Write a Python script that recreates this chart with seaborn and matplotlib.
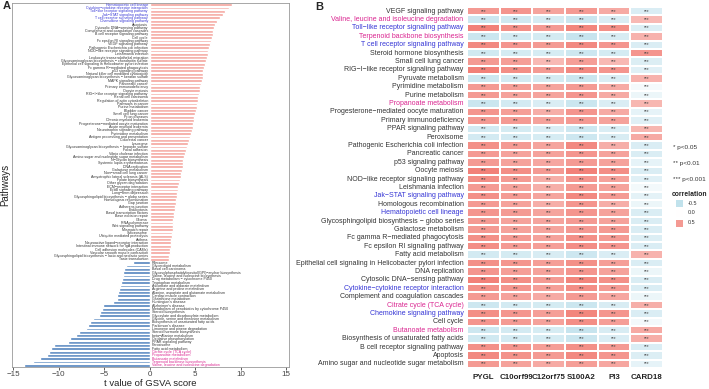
import numpy as np
import pandas as pd
import matplotlib
matplotlib.use('Agg')
import matplotlib.pyplot as plt
import seaborn as sns
from matplotlib.colors import LinearSegmentedColormap
from matplotlib.patches import Rectangle

# ---- panel A: GSVA t values ----
up_paths = [
    'Hematopoietic cell lineage', 'Cytokine−cytokine receptor interaction',
    'Toll−like receptor signaling pathway', 'Jak−STAT signaling pathway',
    'T cell receptor signaling pathway', 'Chemokine signaling pathway',
    'Apoptosis', 'Cytosolic DNA−sensing pathway', 'Complement and coagulation cascades',
    'B cell receptor signaling pathway', 'Cell cycle', 'Fc epsilon RI signaling pathway',
    'VEGF signaling pathway', 'Pathogenic Escherichia coli infection',
    'NOD−like receptor signaling pathway', 'Leishmania infection',
    'Leukocyte transendothelial migration',
    'Glycosaminoglycan biosynthesis − chondroitin sulfate',
    'Epithelial cell signaling in Helicobacter pylori infection',
    'Fc gamma R−mediated phagocytosis', 'p53 signaling pathway',
    'Natural killer cell mediated cytotoxicity',
    'Glycosaminoglycan biosynthesis − keratan sulfate', 'MAPK signaling pathway',
    'Pancreatic cancer', 'Primary immunodeficiency', 'Oocyte meiosis',
    'RIG−I−like receptor signaling pathway', 'Renal cell carcinoma',
    'Regulation of actin cytoskeleton', 'Pathways in cancer', 'Purine metabolism',
    'Bladder cancer', 'Small cell lung cancer', 'Prion diseases',
    'Chronic myeloid leukemia', 'Progesterone−mediated oocyte maturation',
    'Acute myeloid leukemia', 'Neurotrophin signaling pathway', 'Pyrimidine metabolism',
    'Antigen processing and presentation', 'Colorectal cancer', 'Lysosome',
    'Glycosaminoglycan biosynthesis − heparan sulfate', 'Focal adhesion',
    'Vibrio cholerae infection', 'Amino sugar and nucleotide sugar metabolism',
    'N−Glycan biosynthesis', 'Systemic lupus erythematosus', 'DNA replication',
    'Galactose metabolism', 'Non−small cell lung cancer',
    'Amyotrophic lateral sclerosis (ALS)', 'Folate biosynthesis',
    'Other glycan degradation', 'ECM−receptor interaction', 'ErbB signaling pathway',
    'Long−term depression', 'Glycosphingolipid biosynthesis − globo series',
    'Homologous recombination', 'Gap junction', 'Adherens junction', 'Endocytosis',
    'Basal transcription factors', 'Base excision repair', 'Glioma', 'RNA polymerase',
    'Wnt signaling pathway', 'Mismatch repair', 'Spliceosome',
    'Ubiquitin mediated proteolysis', 'Asthma', 'Neuroactive ligand−receptor interaction',
    'Intestinal immune network for IgA production', 'Cell adhesion molecules (CAMs)',
    'Vascular smooth muscle contraction',
    'Glycosphingolipid biosynthesis − lacto and neolacto series', 'Taste transduction',
]
up_t = [
    9.0, 8.7, 8.3, 8.0, 7.7, 7.4, 7.2, 7.1, 7.0, 6.9,
    6.8, 6.7, 6.6, 6.5, 6.4, 6.4, 6.3, 6.2, 6.1, 6.0,
    5.9, 5.9, 5.8, 5.7, 5.6, 5.5, 5.5, 5.4, 5.3, 5.3,
    5.2, 5.2, 5.1, 5.0, 4.9, 4.9, 4.8, 4.7, 4.6, 4.5,
    4.4, 4.3, 4.2, 4.1, 4.0, 3.9, 3.8, 3.7, 3.6, 3.6,
    3.5, 3.4, 3.4, 3.3, 3.2, 3.1, 3.1, 3.0, 3.0, 2.9,
    2.9, 2.8, 2.8, 2.7, 2.7, 2.6, 2.6, 2.5, 2.5, 2.4,
    2.4, 2.3, 2.3, 2.3, 2.2, 2.2, 2.1, 2.1,
]
down_paths = [
    'Ribosome', 'Glycerolipid metabolism', 'Basal cell carcinoma',
    'Glycosylphosphatidylinositol(GPI)−anchor biosynthesis',
    'Valine, leucine and isoleucine biosynthesis', 'Drug metabolism − cytochrome P450',
    'Tryptophan metabolism', 'Ascorbate and aldarate metabolism',
    'Arginine and proline metabolism', 'Alanine, aspartate and glutamate metabolism',
    'Cardiac muscle contraction', 'Glutathione metabolism', "Huntington's disease",
    "Alzheimer's disease", 'Metabolism of xenobiotics by cytochrome P450',
    'Steroid biosynthesis', 'Glyoxylate and dicarboxylate metabolism',
    'Glycine, serine and threonine metabolism', 'Biosynthesis of unsaturated fatty acids',
    "Parkinson's disease", 'Limonene and pinene degradation',
    'Steroid hormone biosynthesis', 'beta−Alanine metabolism', 'Oxidative phosphorylation',
    'PPAR signaling pathway', 'Peroxisome', 'Fatty acid metabolism',
    'Citrate cycle (TCA cycle)', 'Propanoate metabolism', 'Butanoate metabolism',
    'Terpenoid backbone biosynthesis', 'Valine, leucine and isoleucine degradation',
]
down_t = [
    -1.9, -2.6, -2.8, -2.9, -3.0, -3.1, -3.2, -3.3, -3.4, -3.5,
    -3.6, -3.6, -4.1, -5.2, -5.3, -5.5, -5.6, -6.3, -6.6, -6.8,
    -7.0, -7.8, -8.1, -8.8, -9.0, -10.5, -10.9, -11.1, -11.3, -12.1,
    -12.8, -13.8,
]

# ---- panel B: correlation heatmap ----
genes = ['PYGL', 'C10orf99', 'C12orf75', 'S100A2', 'PI3', 'CARD18']
heat_rows = [
    'VEGF signaling pathway', 'Valine, leucine and isoleucine degradation',
    'Toll−like receptor signaling pathway', 'Terpenoid backbone biosynthesis',
    'T cell receptor signaling pathway', 'Steroid hormone biosynthesis',
    'Small cell lung cancer', 'RIG−I−like receptor signaling pathway',
    'Pyruvate metabolism', 'Pyrimidine metabolism', 'Purine metabolism',
    'Propanoate metabolism', 'Progesterone−mediated oocyte maturation',
    'Primary immunodeficiency', 'PPAR signaling pathway', 'Peroxisome',
    'Pathogenic Escherichia coli infection', 'Pancreatic cancer', 'p53 signaling pathway',
    'Oocyte meiosis', 'NOD−like receptor signaling pathway', 'Leishmania infection',
    'Jak−STAT signaling pathway', 'Homologous recombination', 'Hematopoietic cell lineage',
    'Glycosphingolipid biosynthesis − globo series', 'Galactose metabolism',
    'Fc gamma R−mediated phagocytosis', 'Fc epsilon RI signaling pathway',
    'Fatty acid metabolism', 'Epithelial cell signaling in Helicobacter pylori infection',
    'DNA replication', 'Cytosolic DNA−sensing pathway',
    'Cytokine−cytokine receptor interaction', 'Complement and coagulation cascades',
    'Citrate cycle (TCA cycle)', 'Chemokine signaling pathway', 'Cell cycle',
    'Butanoate metabolism', 'Biosynthesis of unsaturated fatty acids',
    'B cell receptor signaling pathway', 'Apoptosis',
    'Amino sugar and nucleotide sugar metabolism',
]
r_pygl = [.50, -.40, .62, -.42, .58, -.38, .50, .62, -.40, .50, .50, -.42, .52, .50, -.36,
          -.36, .55, .50, .50, .62, .56, .50, .55, .50, .52, .50, .50, .55, .56, -.36,
          .55, .52, .62, .55, .50, -.40, .56, .52, -.40, -.38, .55, .58, .50]
r_c10 = [.52, -.38, .55, -.36, .52, -.35, .48, .56, -.36, .48, .46, -.36, .48, .50, -.35,
         -.36, .50, .46, .46, .56, .50, .46, .50, .46, .50, .46, .46, .50, .50, -.35,
         .52, .48, .56, .52, .46, -.36, .52, .50, -.36, -.36, .52, .54, .46]
r_c12 = [.45, -.33, .50, -.35, .50, -.33, .35, .50, -.35, .45, .45, -.30, .40, .46, -.30,
         -.33, .45, .46, .44, .50, .40, .40, .45, .40, .45, .45, .45, .46, .48, -.32,
         .48, .46, .50, .48, .42, -.35, .48, .46, -.33, -.33, .48, .50, .42]
r_s100 = [.50, -.42, .60, -.45, .58, -.40, .48, .58, -.42, .50, .52, -.42, .52, .50, -.40,
          -.40, .58, .52, .50, .62, .52, .50, .58, .52, .52, .50, .50, .55, .56, -.40,
          .55, .52, .60, .56, .50, -.42, .60, .56, -.45, -.42, .55, .58, .48]
r_pi3 = [.42, -.30, .55, -.32, .52, -.35, .35, .52, -.30, .42, .42, -.30, .42, .46, -.30,
         -.32, .40, .46, .46, .56, .46, .46, .50, .40, .46, .46, .50, .50, .52, -.30,
         .48, .46, .55, .50, .44, -.32, .52, .48, -.32, -.30, .50, .52, .44]
r_card18 = [-.30, .35, -.28, .38, -.30, .52, -.28, -.25, .38, -.08, -.15, .36, -.20, -.25, .36,
            .42, -.30, -.30, -.20, -.30, -.25, -.10, -.22, -.15, -.30, -.30, -.30, -.28, -.30, .38,
            -.30, -.15, -.30, -.30, -.15, .40, -.30, -.10, .42, .40, -.30, -.28, -.20]

immune_paths = ['Hematopoietic cell lineage', 'Cytokine−cytokine receptor interaction',
                'Toll−like receptor signaling pathway', 'Jak−STAT signaling pathway',
                'T cell receptor signaling pathway', 'Chemokine signaling pathway']
metab_paths = ['Citrate cycle (TCA cycle)', 'Propanoate metabolism', 'Butanoate metabolism',
               'Terpenoid backbone biosynthesis', 'Valine, leucine and isoleucine degradation']

BLUE = '#3535D5'
MAGENTA = '#DA2590'
TEXT = '#333333'


def label_color(name):
    if name in immune_paths:
        return BLUE
    if name in metab_paths:
        return MAGENTA
    return TEXT


sns.set_theme(style='ticks')
plt.rcParams['font.family'] = ['Liberation Sans', 'DejaVu Sans']

fig = plt.figure(figsize=(7.09, 3.89), dpi=100)
W, H = 709, 389

# panel A
axA = fig.add_axes([12 / W, 1 - 367 / H, 277 / W, 364 / H])
gsva = pd.DataFrame({'pathway': up_paths + down_paths, 't': up_t + down_t})
gsva['dir'] = np.where(gsva['t'] > 0, 'up', 'down')
sns.barplot(data=gsva, x='t', y='pathway', hue='dir',
            palette={'up': '#F5A29B', 'down': '#4F81BD'},
            width=0.86, dodge=False, saturation=1, legend=False, ax=axA)
for i, (name, t) in enumerate(zip(gsva['pathway'], gsva['t'])):
    if t > 0:
        axA.text(-0.2, i, name, ha='right', va='center', fontsize=2.6, color=label_color(name))
    else:
        axA.text(0.2, i, name, ha='left', va='center', fontsize=2.6, color=label_color(name))
axA.set_yticks([])
axA.set_xlim(-15.15, 15.3)
axA.set_xticks(range(-15, 16, 5))
axA.tick_params(axis='x', labelsize=5.8, length=2, width=0.6, pad=1, colors='#444444')
axA.set_xlabel('t value of GSVA score', fontsize=6.8, labelpad=0.5, color='#222222')
axA.set_ylabel('Pathways', fontsize=7, labelpad=1, color='#222222')
for sp in axA.spines.values():
    sp.set_visible(True)
    sp.set_color('#999999')
    sp.set_linewidth(0.6)

# panel B
axB = fig.add_axes([467 / W, 1 - 368 / H, 196 / W, 361 / H])
heat = pd.DataFrame({'PYGL': r_pygl, 'C10orf99': r_c10, 'C12orf75': r_c12,
                     'S100A2': r_s100, 'PI3': r_pi3, 'CARD18': r_card18}, index=heat_rows)
cmap = LinearSegmentedColormap.from_list('corr', ['#A9D6E5', '#FFFFFF', '#F07268'])
stars = np.full(heat.shape, '***')
sns.heatmap(heat[genes], cmap=cmap, vmin=-0.7, vmax=0.7, annot=stars, fmt='',
            annot_kws={'fontsize': 3.4, 'color': '#444444'}, cbar=False,
            linewidths=1.2, linecolor='white', ax=axB)
axB.tick_params(length=0, pad=2.5)
axB.set_yticks(np.arange(len(heat_rows)) + 0.5)
axB.set_yticklabels(heat_rows, fontsize=5.0, rotation=0)
for lbl in axB.get_yticklabels():
    lbl.set_color(label_color(lbl.get_text()))
axB.set_xticklabels(genes, fontsize=5.7, fontweight='bold', rotation=0, color='#222222')
axB.tick_params(axis='x', pad=4)
axB.set_xlabel('')
axB.set_ylabel('')

# legend for panel B
for txt, yp in [('* p<0.05', 147), ('** p<0.01', 163), ('*** p<0.001', 179)]:
    fig.text(673 / W, 1 - yp / H, txt, fontsize=4.6, va='center', color='#333333')
fig.text(672 / W, 1 - 195 / H, 'correlation', fontsize=4.9, fontweight='bold', va='center',
         color='#222222')
for val, yp in [(-0.5, 203), (0.0, 213), (0.5, 223)]:
    fig.patches.append(Rectangle((676 / W, 1 - (yp + 3.5) / H), 7 / W, 7 / H,
                                 transform=fig.transFigure, facecolor=cmap((val + 0.7) / 1.4),
                                 edgecolor='none'))
    fig.text(688 / W, 1 - yp / H, f'{val:.1f}', fontsize=4.0, va='center', color='#333333')

fig.text(3 / W, 1 - 6 / H, 'A', fontsize=8, fontweight='bold', va='center')
fig.text(315 / W, 1 - 7 / H, 'B', fontsize=8, fontweight='bold', va='center')

fig.savefig('out.png', dpi=100)
